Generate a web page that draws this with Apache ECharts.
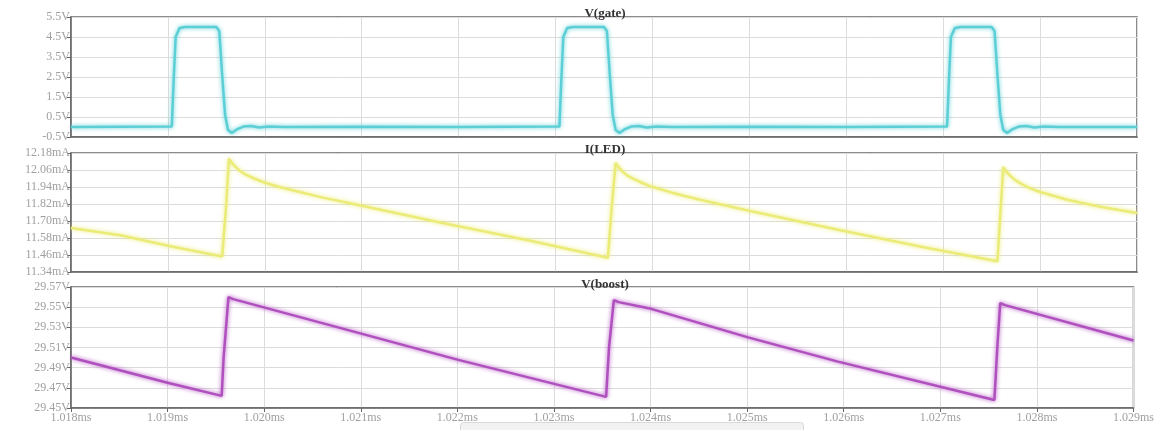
<!DOCTYPE html>
<html>
<head>
<meta charset="utf-8">
<script src="https://cdn.jsdelivr.net/npm/echarts@6/dist/echarts.min.js"></script>
<style>
  html, body { margin: 0; padding: 0; background: #fff; }
  #main { width: 1157px; height: 430px; }
</style>
</head>
<body>
<div id="main"></div>
<script>
// 波形数据 [时间(ms), 数值]
var gatePoints = [
  [1.01800, 0.00], [1.01850, 0.01], [1.01904, 0.02], [1.01906, 2.40], [1.01908, 4.50],
  [1.01912, 4.95], [1.01918, 5.00], [1.01950, 5.00], [1.01953, 4.80], [1.01956, 2.60],
  [1.01959, 0.60], [1.01962, -0.15], [1.01966, -0.30], [1.01971, -0.12], [1.01978, 0.02],
  [1.01986, 0.05], [1.01994, -0.02], [1.02004, 0.03], [1.02020, 0.00], [1.02100, 0.01],
  [1.02200, 0.00], [1.02304, 0.02], [1.02306, 2.40], [1.02308, 4.50], [1.02312, 4.95],
  [1.02318, 5.00], [1.02350, 5.00], [1.02353, 4.80], [1.02356, 2.60], [1.02359, 0.60],
  [1.02362, -0.15], [1.02366, -0.30], [1.02371, -0.12], [1.02378, 0.02], [1.02386, 0.05],
  [1.02394, -0.02], [1.02404, 0.03], [1.02420, 0.00], [1.02500, 0.01], [1.02600, 0.00],
  [1.02704, 0.02], [1.02706, 2.40], [1.02708, 4.50], [1.02712, 4.95], [1.02718, 5.00],
  [1.02750, 5.00], [1.02753, 4.80], [1.02756, 2.60], [1.02759, 0.60], [1.02762, -0.15],
  [1.02766, -0.30], [1.02771, -0.12], [1.02778, 0.02], [1.02786, 0.05], [1.02794, -0.02],
  [1.02804, 0.03], [1.02820, 0.00], [1.02900, 0.00]
];
var ledPoints = [
  [1.01800, 11.65], [1.01851, 11.60], [1.01904, 11.52], [1.01956, 11.45], [1.01960, 11.80],
  [1.01963, 12.14], [1.01966, 12.11], [1.01970, 12.08], [1.01975, 12.05], [1.01981, 12.025],
  [1.01989, 12.00], [1.02000, 11.97], [1.02015, 11.94], [1.02036, 11.905], [1.02060, 11.865],
  [1.02088, 11.825], [1.02181, 11.69], [1.02274, 11.56], [1.02354, 11.44], [1.02358, 11.80],
  [1.02362, 12.11], [1.02365, 12.08], [1.02369, 12.05], [1.02374, 12.02], [1.02381, 11.995],
  [1.02389, 11.97], [1.02398, 11.945], [1.02420, 11.90], [1.02449, 11.85], [1.02501, 11.77],
  [1.02594, 11.635], [1.02680, 11.515], [1.02756, 11.416], [1.02759, 11.75], [1.02762, 12.08],
  [1.02765, 12.05], [1.02769, 12.02], [1.02774, 11.99], [1.02781, 11.96], [1.02790, 11.93],
  [1.02800, 11.905], [1.02828, 11.85], [1.02862, 11.80], [1.02900, 11.756]
];
var boostPoints = [
  [1.01800, 29.500], [1.01900, 29.475], [1.01956, 29.462], [1.01958, 29.500], [1.01963, 29.560],
  [1.01968, 29.558], [1.02088, 29.527], [1.02200, 29.498], [1.02354, 29.461], [1.02357, 29.510],
  [1.02362, 29.557], [1.02367, 29.555], [1.02398, 29.549], [1.02501, 29.520], [1.02594, 29.496],
  [1.02756, 29.458], [1.02759, 29.510], [1.02762, 29.554], [1.02767, 29.552], [1.02900, 29.517]
];
var panelTitles = ['V(gate)', 'I(LED)', 'V(boost)'];
var gateRange = [-0.5, 5.5, 1];
var ledRange = [11.34, 12.18, 0.12];
var boostRange = [29.45, 29.57, 0.02];
var timeRange = [1.018, 1.029, 0.001];

function waveChart(){
    var labelFont = {color:'#a0a0a0', fontSize:12, fontFamily:'Liberation Serif'};
    var gridLine = {show:true, lineStyle:{color:'#dcdcdc', width:1}};
    var grids = [
        {left:71, right:20, top:17, height:120},
        {left:71, right:20, top:153, height:119},
        {left:71, right:20, top:287, height:121}
    ];
    grids.forEach(function(g){
        g.show = true;
        g.borderColor = '#666';
        g.borderWidth = 1.5;
        g.backgroundColor = '#fff';
    });

    var xAxes = [0,1,2].map(function(i){
        return {
            type:'value', gridIndex:i,
            min:timeRange[0], max:timeRange[1], interval:timeRange[2],
            axisLine:{show:true, onZero:false, lineStyle:{color:'#666', width:1.5}},
            axisTick:{show:i==2, length:4, lineStyle:{color:'#666'}},
            axisLabel:Object.assign({show:i==2, margin:4, formatter:function(v){ return v.toFixed(3)+'ms'; }}, labelFont),
            splitLine:gridLine
        };
    });

    function yAxis(i, r, unit){
        return {
            type:'value', gridIndex:i,
            min:r[0], max:r[1], interval:r[2],
            axisLine:{show:true, onZero:false, lineStyle:{color:'#666', width:1.5}},
            axisTick:{show:true, length:4, lineStyle:{color:'#666'}},
            axisLabel:Object.assign({margin:1, formatter:function(v){
                return (r[2] < 0.5 ? v.toFixed(2) : v.toFixed(1)) + unit;
            }}, labelFont),
            splitLine:gridLine
        };
    }

    function wave(i, data, color){
        return {
            type:'line', xAxisIndex:i, yAxisIndex:i,
            data:data, showSymbol:false, symbol:'none',
            lineStyle:{color:color, width:2.5, shadowBlur:4, shadowColor:color},
            animation:false
        };
    }

    var option = {
        backgroundColor:'#fff',
        animation:false,
        title: panelTitles.map(function(t, i){
            return {
                text:t, left:605, top:[7, 143, 278][i], padding:0,
                textAlign:'center',
                textStyle:{fontFamily:'Liberation Serif', fontSize:13, fontWeight:'bold', color:'#333'}
            };
        }),
        grid:grids,
        xAxis:xAxes,
        yAxis:[yAxis(0, gateRange, 'V'), yAxis(1, ledRange, 'mA'), yAxis(2, boostRange, 'V')],
        series:[
            wave(0, gatePoints, '#5ccfd6'),
            wave(1, ledPoints, '#ebeb78'),
            wave(2, boostPoints, '#b050bf')
        ],
        graphic:[{
            type:'rect', left:460, top:422,
            shape:{width:343, height:12, r:3},
            style:{fill:'#f2f2f2', stroke:'#d8d8d8', lineWidth:1}
        }]
    };
    var myChart = echarts.init(document.getElementById('main'));
    myChart.setOption(option);
}
waveChart();
</script>
</body>
</html>
